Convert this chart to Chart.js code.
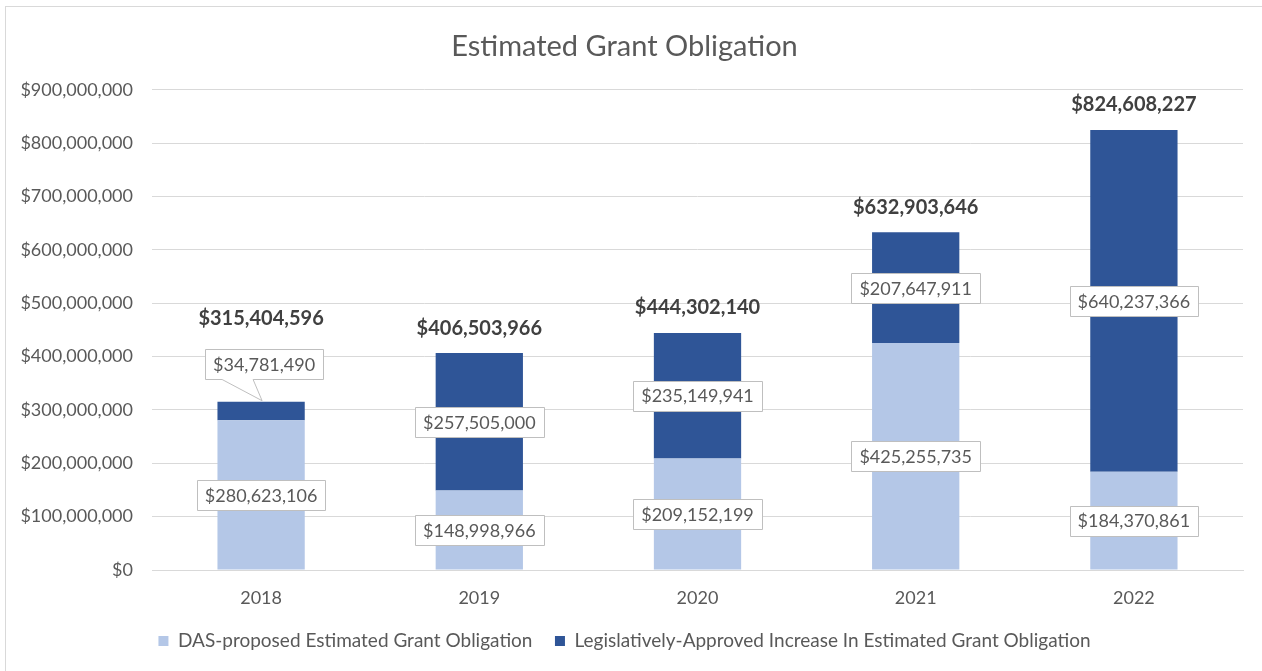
<!DOCTYPE html>
<html>
<head>
<meta charset="utf-8">
<title>Estimated Grant Obligation</title>
<script src="https://cdn.jsdelivr.net/npm/chart.js@4.4.1/dist/chart.umd.min.js"></script>
<style>
  html, body { margin: 0; padding: 0; background: #fff; overflow: hidden; }
  #frame { position: absolute; left: 5px; top: 6px; width: 1266px; height: 680px;
           border-left: 1px solid #d9d9d9; border-top: 1px solid #d9d9d9; }
  canvas { display: block; }
</style>
</head>
<body>
<div id="frame"><canvas id="grantChart" width="1266" height="680"></canvas></div>
<script>
// values
const years = ['2018', '2019', '2020', '2021', '2022'];
const dasProposed = [280623106, 148998966, 209152199, 425255735, 184370861];
const legislativeIncrease = [34781490, 257505000, 235149941, 207647911, 640237366];
const totals = [315404596, 406503966, 444302140, 632903646, 824608227];

const FONT = 'Lato, "Open Sans", sans-serif';
const GREY_TEXT = '#595959';

function money(v) {
    return '$' + Number(v).toLocaleString('en-US');
}

// boxed value labels in the middle of each segment, plus bold totals on top
const barLabels = {
    id: 'barLabels',
    afterDatasetsDraw(chart, args, opts) {
        const ctx = chart.ctx;
        ctx.save();
        ctx.textAlign = 'center';
        ctx.textBaseline = 'middle';
        ctx.lineWidth = 1;

        chart.data.datasets.forEach((ds, di) => {
            const meta = chart.getDatasetMeta(di);
            meta.data.forEach((bar, i) => {
                const text = money(ds.data[i]);
                ctx.font = '18px ' + FONT;
                const w = ctx.measureText(text).width + 2 * opts.boxPad;
                const h = opts.boxHeight;
                let cx = bar.x;
                let cy = (bar.y + bar.base) / 2;
                const callout = opts.callouts.find(c => c.dataset === di && c.index === i);
                if (callout) {
                    cx += callout.dx;
                    cy = bar.y - callout.lift;
                }
                const l = Math.round(cx - w / 2) + 0.5;
                const r = Math.round(cx + w / 2) + 0.5;
                const t = Math.round(cy - h / 2) + 0.5;
                const b = Math.round(cy + h / 2) + 0.5;

                ctx.beginPath();
                ctx.moveTo(l, t);
                ctx.lineTo(r, t);
                ctx.lineTo(r, b);
                if (callout) {
                    ctx.lineTo(cx + callout.baseRight, b);
                    ctx.lineTo(bar.x + callout.tipDx, bar.y - 1);
                    ctx.lineTo(cx + callout.baseLeft, b);
                }
                ctx.lineTo(l, b);
                ctx.closePath();
                ctx.fillStyle = '#ffffff';
                ctx.fill();
                ctx.strokeStyle = opts.boxBorder;
                ctx.stroke();

                ctx.fillStyle = GREY_TEXT;
                ctx.fillText(text, cx, cy + 1);
            });
        });

        // totals above the stacks
        const topMeta = chart.getDatasetMeta(chart.data.datasets.length - 1);
        ctx.font = 'bold 20px ' + FONT;
        ctx.fillStyle = '#404040';
        topMeta.data.forEach((bar, i) => {
            ctx.fillText(money(totals[i]), bar.x, bar.y - opts.totalLift[i]);
        });
        ctx.restore();
    }
};

const ctx = document.getElementById('grantChart').getContext('2d');

const data = {
    labels: years,
    datasets: [{
        label: 'DAS-proposed Estimated Grant Obligation',
        data: dasProposed,
        backgroundColor: '#b4c7e7',
        borderWidth: 0,
        barPercentage: 0.4,
        categoryPercentage: 1.0
    },
    {
        label: 'Legislatively-Approved Increase In Estimated Grant Obligation',
        data: legislativeIncrease,
        backgroundColor: '#2f5597',
        borderWidth: 0,
        barPercentage: 0.4,
        categoryPercentage: 1.0
    }]
};

const options = {
    responsive: false,
    animation: false,
    devicePixelRatio: 1,
    layout: {
        padding: { left: 0, right: 29, top: 0, bottom: 26.5 }
    },
    scales: {
        x: {
            stacked: true,
            grid: { display: false, drawTicks: false },
            border: { color: '#d9d9d9' },
            ticks: {
                color: GREY_TEXT,
                font: { family: FONT, size: 18 },
                padding: 17
            },
            afterFit(scale) {
                scale.height = 39;
            }
        },
        y: {
            stacked: true,
            min: 0,
            max: 900000000,
            grid: { color: '#d9d9d9', drawTicks: false },
            border: { display: false },
            ticks: {
                stepSize: 100000000,
                color: GREY_TEXT,
                font: { family: FONT, size: 18 },
                padding: 19,
                callback: (v) => money(v)
            },
            afterFit(scale) {
                scale.width = 146;
            }
        }
    },
    plugins: {
        title: {
            display: true,
            text: 'Estimated Grant Obligation',
            color: GREY_TEXT,
            font: { family: FONT, size: 29, weight: 'normal', lineHeight: 1.2 },
            padding: { top: 22, bottom: 26 }
        },
        legend: {
            display: true,
            position: 'bottom',
            labels: {
                color: GREY_TEXT,
                font: { family: FONT, size: 19 },
                boxWidth: 10,
                boxHeight: 10,
                padding: 22.5
            }
        },
        tooltip: { enabled: false },
        barLabels: {
            boxPad: 8,
            boxHeight: 30,
            boxBorder: '#bfbfbf',
            totalLift: [83, 25, 25, 25, 25],
            callouts: [{ dataset: 1, index: 0, lift: 38, dx: 3, baseLeft: -42, baseRight: -11, tipDx: 1 }]
        }
    }
};

window.myChart = new Chart(ctx, {
    type: 'bar',
    data: data,
    options: options,
    plugins: [barLabels]
});
</script>
</body>
</html>
